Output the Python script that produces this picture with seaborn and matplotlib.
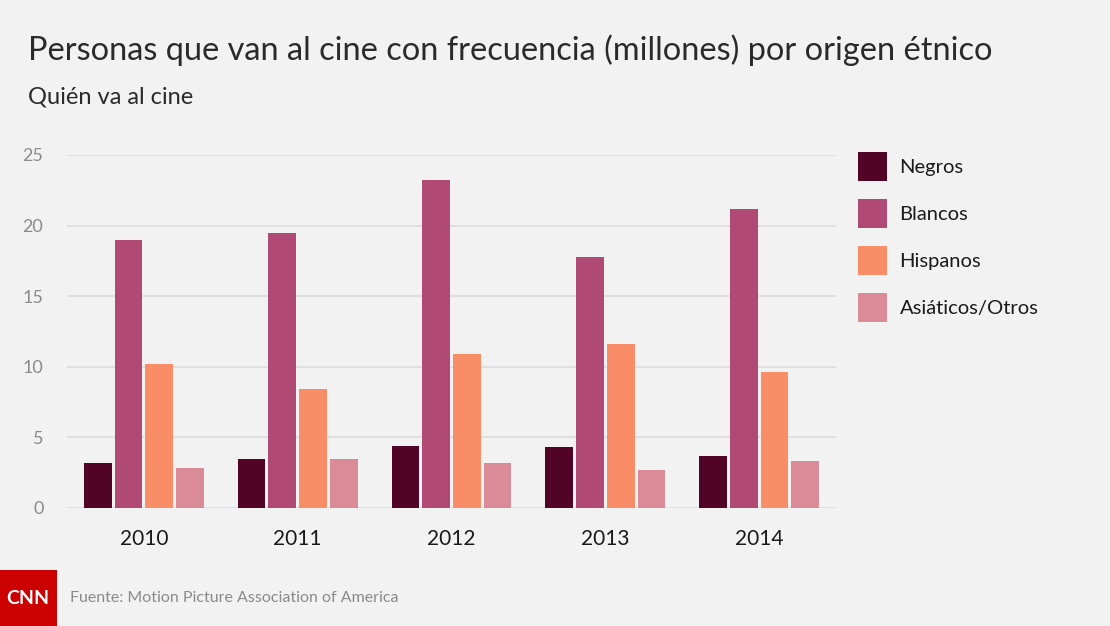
import numpy as np
import pandas as pd
import matplotlib.pyplot as plt
import seaborn as sns
from matplotlib.patches import Rectangle

# data (millions)
years = ["2010", "2011", "2012", "2013", "2014"]
groups = ["Negros", "Blancos", "Hispanos", "Asiáticos/Otros"]
negros = [3.2, 3.5, 4.4, 4.3, 3.7]
blancos = [19.0, 19.5, 23.2, 17.8, 21.2]
hispanos = [10.2, 8.4, 10.9, 11.6, 9.6]
asiaticos = [2.8, 3.5, 3.2, 2.7, 3.3]
colors = ["#520426", "#b04a75", "#f98d68", "#db8a97"]

df = pd.DataFrame({
    "year": years * 4,
    "grupo": np.repeat(groups, len(years)),
    "valor": negros + blancos + hispanos + asiaticos,
})

bg = "#f2f2f2"
sns.set_theme(style="white")
plt.rcParams["font.family"] = ["Lato", "DejaVu Sans"]

fig = plt.figure(figsize=(11.1, 6.26), dpi=100, facecolor=bg)
ax = fig.add_axes([67 / 1110, 1 - 508 / 626, (836 - 67) / 1110, (508 - 155) / 626])
ax.set_facecolor(bg)

sns.barplot(data=df, x="year", y="valor", hue="grupo", hue_order=groups,
            palette=colors, width=0.8, gap=0.1, saturation=1, linewidth=0,
            ax=ax, zorder=3)

ax.set_ylim(0, 25)
ax.set_xlim(-0.5, 4.5)
ax.set_yticks([0, 5, 10, 15, 20, 25])
ax.yaxis.grid(True, color="#dcdcdc", linewidth=1.2, zorder=0)
ax.set_axisbelow(True)
for s in ax.spines.values():
    s.set_visible(False)
ax.tick_params(axis="y", colors="#8a8a8a", labelsize=13, length=0, pad=17)
ax.tick_params(axis="x", colors="#1a1a1a", labelsize=15, length=0, pad=15)
ax.set_xlabel("")
ax.set_ylabel("")

handles, labels = ax.get_legend_handles_labels()
ax.legend(handles, labels, loc="upper left", bbox_to_anchor=(858 / 1110, 1 - 152 / 626),
          bbox_transform=fig.transFigure, frameon=False, fontsize=14.5,
          handlelength=1.44, handleheight=1.84, handletextpad=0.62,
          labelspacing=0.89, borderpad=0, borderaxespad=0, labelcolor="#1a1a1a")

fig.text(28 / 1110, 1 - 50 / 626, "Personas que van al cine con frecuencia (millones) por origen étnico",
         fontsize=23.4, color="#2a2a2a", va="center", ha="left")
fig.text(28 / 1110, 1 - 97 / 626, "Quién va al cine", fontsize=17, color="#2a2a2a",
         va="center", ha="left")

# footer with logo block
fig.patches.append(Rectangle((0, 0), 57 / 1110, 56 / 626, transform=fig.transFigure,
                             facecolor="#cc0000", edgecolor="none"))
fig.text(28 / 1110, 1 - 599 / 626, "CNN", fontsize=14, fontweight="bold", color="white",
         va="center", ha="center")
fig.text(70 / 1110, 1 - 598 / 626, "Fuente: Motion Picture Association of America",
         fontsize=11.5, color="#8a8a8a", va="center", ha="left")

fig.savefig("out.png", dpi=100, facecolor=bg)
